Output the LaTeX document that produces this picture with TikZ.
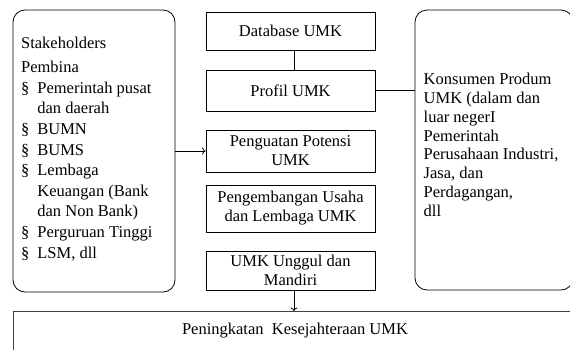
\documentclass[tikz,border=0pt]{standalone}
\usepackage{fontspec}
\setmainfont{Liberation Serif}
\usetikzlibrary{arrows.meta}
\newcommand{\bul}{\makebox[16.3pt][l]{§}}
\newcommand{\ind}{\hspace*{16.3pt}}
\begin{document}
\begin{tikzpicture}[x=1pt,y=-1pt,
  line width=0.8pt,
  boxstyle/.style={draw, rectangle, inner sep=0pt, minimum width=169pt, align=center,
    font=\fontsize{16.5}{19}\selectfont},
  roundbox/.style={draw, rounded corners=12pt},
  txt/.style={inner sep=0pt, anchor=base west},
  arr/.style={-{To[length=3.5pt,width=7pt]}}]
\useasboundingbox (0,0) rectangle (570,349);
% left rounded box
\draw[roundbox] (13,10) rectangle (175,292);
\coordinate (leftE) at (175,151);
\node[txt] (lefttext) at (20.7,48.3) {\parbox[t]{155pt}{\fontsize{16.5}{20.6}\selectfont\raggedright
Stakeholders\\[3.8pt]
Pembina\\
\bul Pemerintah pusat\\
\ind dan daerah\\
\bul BUMN\\
\bul BUMS\\
\bul Lembaga\\
\ind Keuangan (Bank\\
\ind dan Non Bank)\\
\bul Perguruan Tinggi\\
\bul LSM, dll}};
% right rounded box
\draw[roundbox] (415,10) rectangle (573,290);
\coordinate (rightW) at (415,90.5);
\node[txt] (righttext) at (423.3,84.3) {\parbox[t]{150pt}{\fontsize{16.5}{18.9}\selectfont\raggedright
Konsumen Produm\\
UMK (dalam dan\\
luar negerI\\
Pemerintah\\
Perusahaan Industri,\\
Jasa, dan\\
Perdagangan,\\
dll}};
% center boxes
\node[boxstyle, minimum height=38pt] (db) at (290.5,31) {Database UMK};
\node[boxstyle, minimum height=41pt] (profil) at (290.5,90.5) {Profil UMK};
\node[boxstyle, minimum height=42pt] (penguatan) at (290.5,151) {Penguatan Potensi\\UMK};
\node[boxstyle, minimum height=47pt] (pengembangan) at (290.5,208.5) {Pengembangan Usaha\\dan Lembaga UMK};
\node[boxstyle, minimum height=39pt] (unggul) at (290.5,270.5) {UMK Unggul dan\\Mandiri};
% bottom box (cut off by the page)
\node[draw=black!75, line width=1pt, rectangle, inner sep=0pt, minimum width=590pt, minimum height=60pt, anchor=north west] (bottom) at (13,311) {};
\node[inner sep=0pt, font=\fontsize{16.5}{19}\selectfont] (bottomtext) at (295,331) {Peningkatan\ \ Kesejahteraan UMK};
% connectors
\draw ([xshift=3.5pt]db.south) -- ([xshift=3.5pt]profil.north);
\draw[arr] (leftE) -- (penguatan.west);
\draw (profil.east) -- (rightW);
\draw[arr] ([xshift=3.5pt]unggul.south) -- ([xshift=3.5pt]unggul.south |- bottom.north);
\end{tikzpicture}
\end{document}
